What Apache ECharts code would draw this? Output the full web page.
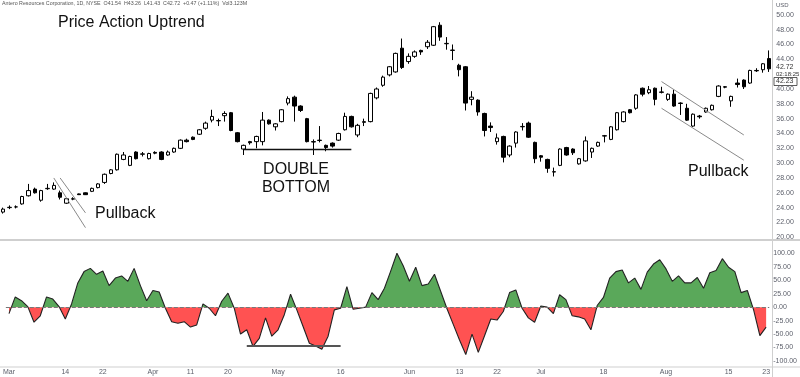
<!DOCTYPE html>
<html>
<head>
<meta charset="utf-8">
<script src="https://cdn.jsdelivr.net/npm/echarts@6/dist/echarts.min.js"></script>
<style>
  html, body { margin: 0; padding: 0; background: #fff; }
  #chart { width: 800px; height: 377px; }
</style>
</head>
<body>
<div id="chart"></div>
<script>
// AR daily, Mar - Aug 2022, trading days per month
const marDays = [1,2,3,4,7,8,9,10,11,14,15,16,17,18,21,22,23,24,25,28,29,30,31];
const aprDays = [1,4,5,6,7,8,11,12,13,14,18,19,20,21,22,25,26,27,28,29];
const mayDays = [2,3,4,5,6,9,10,11,12,13,16,17,18,19,20,23,24,25,26,27,31];
const junDays = [1,2,3,6,7,8,9,10,13,14,15,16,17,21,22,23,24,27,28,29,30];
const julDays = [1,5,6,7,8,11,12,13,14,15,18,19,20,21,22,25,26,27,28,29];
const augDays = [1,2,3,4,5,8,9,10,11,12,15,16,17,18,19,22,23];

const tickDates = ['03-01','03-14','03-22','04-01','04-11','04-20','05-02','05-16',
                   '06-01','06-13','06-22','07-01','07-18','08-01','08-15','08-23'];
const tickTexts = ['Mar','14','22','Apr','11','20','May','16','Jun','13','22','Jul','18','Aug','15','23'];

const opens = [23.4,24.0,24.1,24.5,25.6,26.5,25.0,26.55,26.5,26.0,
  24.6,25.15,25.85,26.0,26.2,26.7,27.4,28.6,29.1,30.5,
  29.7,31.5,31.2,30.6,31.45,31.5,31.1,31.5,32.0,33.1,
  33.5,33.9,34.7,35.8,35.7,36.4,36.8,34.1,31.9,32.9,
  32.9,32.9,35.8,34.9,35.6,38.1,38.9,37.7,36.0,32.9,
  33.1,32.4,32.7,33.1,34.5,36.3,33.8,35.5,35.6,38.8,
  40.5,41.9,42.3,45.5,43.7,44.4,45.2,45.7,45.9,48.6,
  46.1,45.2,43.2,43.0,38.6,38.5,36.7,35.0,32.9,33.6,
  31.1,32.7,34.9,35.4,32.8,31.0,30.5,28.8,29.7,32.1,
  31.9,29.9,30.3,31.5,32.3,33.7,33.2,34.5,35.6,37.2,
  37.4,40.1,39.5,40.1,39.6,38.6,39.3,38.1,37.4,35.0,
  36.35,36.9,37.2,39.0,40.3,38.4,40.8,41.2,40.8,42.5,
  42.6,44.1];
const closes = [23.8,24.05,24.1,25.5,26.3,26.0,26.3,26.6,27.0,25.4,
  25.2,25.2,25.75,25.75,26.6,27.2,28.5,29.1,31.2,31.1,
  30.9,30.6,31.25,31.3,31.35,30.5,31.5,32.0,33.1,32.9,
  33.2,34.5,35.4,36.3,35.75,36.7,34.4,32.9,32.4,32.75,
  33.6,35.8,35.3,35.3,37.2,38.7,37.7,37.1,32.9,32.85,
  33.05,32.1,32.3,34.0,36.3,34.9,35.1,35.6,39.4,40.0,
  41.6,43.0,44.8,42.9,44.4,45.0,45.0,46.3,48.4,47.0,
  46.15,45.25,42.6,38.1,38.9,36.9,34.4,34.8,33.4,30.8,
  32.3,34.2,34.95,33.5,30.6,30.8,29.3,28.85,31.9,31.1,
  31.4,30.6,33.0,32.0,32.8,33.65,34.9,36.8,36.9,36.8,
  39.2,39.3,39.9,38.6,39.55,39.3,37.7,38.05,35.8,36.6,
  36.25,37.4,37.8,40.4,40.25,39.0,40.6,40.3,42.5,42.45,
  43.4,42.72];
const lows = [23.2,23.8,23.9,24.4,25.5,25.9,24.8,26.4,26.4,25.1,
  24.5,25.0,25.7,25.7,26.1,26.6,27.2,28.5,29.0,30.4,
  29.6,30.5,30.9,30.5,31.2,30.4,31.0,31.4,31.9,32.8,
  33.1,33.8,34.5,35.5,35.0,35.6,34.3,32.8,31.1,32.5,
  32.0,32.4,35.2,34.4,35.5,37.8,35.6,36.9,32.8,31.1,
  32.8,31.6,32.1,33.0,34.4,34.8,33.5,35.0,35.5,38.6,
  40.3,41.7,42.2,42.7,43.4,44.2,44.6,45.4,45.8,46.5,
  45.3,43.9,41.7,37.1,37.8,36.4,33.6,34.2,32.5,30.1,
  30.8,32.1,34.4,33.4,30.0,30.2,28.7,28.2,29.6,31.0,
  31.1,29.8,30.2,30.7,32.2,32.8,33.1,34.4,35.5,36.7,
  37.2,39.0,39.3,37.8,39.4,38.4,37.6,36.5,35.7,34.9,
  36.0,36.8,37.1,38.9,40.1,37.6,40.2,40.0,40.7,42.3,
  42.2,42.3];
const highs = [24.0,24.3,24.3,25.6,27.2,26.7,26.4,27.2,27.4,26.3,
  25.3,25.4,25.9,26.05,26.7,27.3,28.6,29.2,31.3,31.5,
  31.0,31.6,31.5,31.4,31.6,31.6,31.7,32.1,33.2,33.3,
  33.6,34.6,35.6,37.2,36.0,37.0,36.9,34.2,32.5,33.0,
  33.7,36.9,35.9,35.4,37.3,39.0,39.1,37.8,36.1,33.2,
  35.0,32.5,32.8,34.1,36.8,36.4,35.3,36.0,39.5,40.2,
  41.8,43.1,44.9,46.8,44.8,45.2,45.3,46.6,48.5,49.0,
  47.0,46.0,43.4,43.1,39.7,38.6,36.8,35.5,34.0,33.7,
  32.4,34.3,35.4,35.6,32.9,31.1,30.6,29.4,32.0,32.2,
  32.0,30.7,33.6,32.1,32.9,33.8,35.0,36.9,37.0,37.3,
  39.3,40.2,40.4,40.2,40.3,39.4,39.9,38.2,38.0,36.7,
  36.5,37.5,37.9,40.5,40.4,39.1,41.4,41.3,42.6,42.8,
  43.5,45.2];

// oscillator (lower pane)
const oscValues = [-12,19,12,1,-28,-16,19,15,1,-22,
  6,45,66,72,61,67,40,54,58,48,
  72,40,12,31,28,-2,-27,-30,-27,-37,
  -33,6,-2,-16,11,26,-2,-50,-42,-73,
  -58,-20,-54,-42,-14,24,-5,-36,-67,-72,
  -78,-54,-5,-2,38,-4,-2,0,27,14,
  35,67,100,77,48,74,40,43,61,29,
  -3,-32,-61,-88,-50,-84,-53,-22,-24,-8,
  27,32,-2,-20,-28,2,0,-12,23,14,
  -16,-18,-22,-42,3,18,54,66,69,45,
  54,33,65,80,88,71,48,58,45,45,
  55,35,64,68,90,74,66,27,31,-5,
  -53,-37];

const pad = n => (n < 10 ? '0' : '') + n;
const dates = [];
[[3, marDays], [4, aprDays], [5, mayDays], [6, junDays], [7, julDays], [8, augDays]].forEach(([m, days]) => {
  days.forEach(d => dates.push(pad(m) + '-' + pad(d)));
});
const candles = dates.map((d, i) => [opens[i], closes[i], lows[i], highs[i]]);

const chart = echarts.init(document.getElementById('chart'));
const font = 'Liberation Sans, Arial, sans-serif';
const gray = '#5d606b';

const option = {
  animation: false,
  backgroundColor: '#fff',
  grid: [
    { left: -1.2, right: 27.7, top: 0, height: 237.3 },
    { left: -1.2, right: 27.7, top: 253.3, height: 107.7 }
  ],
  xAxis: [
    { type: 'category', gridIndex: 0, data: dates, boundaryGap: true,
      axisLine: { show: false }, axisTick: { show: false }, axisLabel: { show: false } },
    { type: 'category', gridIndex: 1, data: dates, boundaryGap: true,
      axisLine: { show: false }, axisTick: { show: false },
      axisLabel: {
        margin: 8, fontSize: 7, color: gray, fontFamily: font, hideOverlap: false,
        interval: (idx, val) => tickDates.includes(val),
        formatter: val => tickTexts[tickDates.indexOf(val)]
      } }
  ],
  yAxis: [
    { type: 'value', gridIndex: 0, position: 'right', min: 20, max: 52, interval: 2,
      axisLine: { show: false }, axisTick: { show: false }, splitLine: { show: false },
      axisLabel: { margin: 4, fontSize: 7, color: gray, fontFamily: font,
        // 42 is covered by the last-price tag, 52 is off the top
        formatter: v => (v >= 51 || v === 42 ? '' : v.toFixed(2)) } },
    { type: 'value', gridIndex: 1, position: 'right', min: -100, max: 100, interval: 25,
      axisLine: { show: false }, axisTick: { show: false }, splitLine: { show: false },
      axisLabel: { margin: 4, fontSize: 7, color: gray, fontFamily: font,
        formatter: v => v.toFixed(2) } }
  ],
  visualMap: [{
    type: 'piecewise', show: false, seriesIndex: 1, dimension: 1,
    pieces: [{ gt: 0, lte: 150, color: '#5aa85a' }, { gte: -150, lte: 0, color: '#ff5252' }]
  }],
  series: [
    {
      type: 'candlestick', xAxisIndex: 0, yAxisIndex: 0, data: candles, barWidth: 4,
      itemStyle: { color: '#ffffff', color0: '#000000', borderColor: '#000000', borderColor0: '#000000', borderWidth: 1 },
      markLine: {
        silent: true, symbol: 'none', label: { show: false },
        lineStyle: { color: '#8a8a8a', width: 1, type: 'solid' },
        data: [
          [{ coord: [dates[8], 28.0] }, { coord: [dates[13], 21.3] }],
          [{ coord: [dates[9], 28.0] }, { coord: [dates[13], 23.3] }],
          [{ coord: [dates[104], 41.0] }, { coord: [dates[117], 33.8] }],
          [{ coord: [dates[104], 37.4] }, { coord: [dates[117], 30.4] }],
          [{ coord: [dates[38], 31.86], lineStyle: { color: '#111', width: 1.3 } }, { coord: [dates[55], 31.86] }]
        ]
      }
    },
    {
      type: 'line', xAxisIndex: 1, yAxisIndex: 1, data: oscValues, symbol: 'none',
      lineStyle: { width: 0, opacity: 0 }, areaStyle: { opacity: 1 }
    },
    {
      type: 'line', xAxisIndex: 1, yAxisIndex: 1, data: oscValues, symbol: 'none',
      color: '#222', lineStyle: { width: 1.1, color: '#222' },
      markLine: {
        silent: true, symbol: 'none', label: { show: false },
        data: [
          { yAxis: 0, lineStyle: { color: '#777', type: 'dashed', width: 1 } },
          [{ coord: [dates[38], -72], lineStyle: { color: '#555', width: 2, type: 'solid' } }, { coord: [dates[53], -72] }]
        ]
      }
    }
  ],
  graphic: [
    { type: 'line', shape: { x1: 0, y1: 240, x2: 800, y2: 240 }, style: { stroke: '#cfcfcf', lineWidth: 2 }, silent: true },
    { type: 'line', shape: { x1: 0, y1: 367, x2: 800, y2: 367 }, style: { stroke: '#cfcfcf', lineWidth: 1 }, silent: true },
    { type: 'line', shape: { x1: 772.5, y1: 0, x2: 772.5, y2: 377 }, style: { stroke: '#cfcfcf', lineWidth: 1 }, silent: true },
    { type: 'text', left: 2, top: 1, style: { text: 'Antero Resources Corporation, 1D, NYSE  O41.54  H43.26  L41.43  C42.72  +0.47 (+1.11%)  Vol3.123M', font: '5.3px ' + font, fill: '#555' } },
    { type: 'text', left: 776, top: 2, style: { text: 'USD', font: '6px ' + font, fill: gray } },
    { type: 'text', left: 58, top: 15, style: { text: 'Price Action Uptrend', font: '16px ' + font, fill: '#111' } },
    { type: 'text', x: 296, y: 170, style: { text: 'DOUBLE', font: '16px ' + font, fill: '#111', align: 'center', verticalAlign: 'middle' } },
    { type: 'text', x: 296, y: 188, style: { text: 'BOTTOM', font: '16px ' + font, fill: '#111', align: 'center', verticalAlign: 'middle' } },
    { type: 'text', x: 95, y: 214, style: { text: 'Pullback', font: '16px ' + font, fill: '#111', verticalAlign: 'middle' } },
    { type: 'text', x: 688, y: 172, style: { text: 'Pullback', font: '16px ' + font, fill: '#111', verticalAlign: 'middle' } },
    { type: 'text', x: 776, y: 67.5, style: { text: '42.72', font: '7px ' + font, fill: '#333', verticalAlign: 'middle' } },
    { type: 'text', x: 776, y: 74.5, style: { text: '02:18:25', font: '6px ' + font, fill: '#333', verticalAlign: 'middle' } },
    { type: 'rect', shape: { x: 774, y: 77.5, width: 23, height: 8 }, style: { fill: '#fff', stroke: '#333', lineWidth: 0.8 } },
    { type: 'text', x: 776, y: 81.5, style: { text: '42.23', font: '7px ' + font, fill: '#333', verticalAlign: 'middle' } }
  ]
};
chart.setOption(option);
</script>
</body>
</html>
